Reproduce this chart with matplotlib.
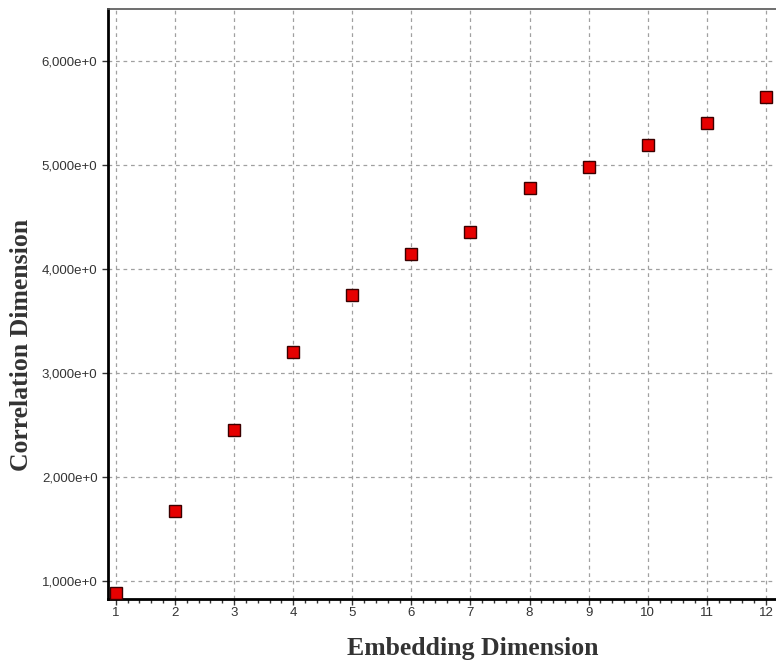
import matplotlib.pyplot as plt
from matplotlib.ticker import FuncFormatter, MultipleLocator

# embedding dimension vs correlation dimension
embedding_dim = [1, 2, 3, 4, 5, 6, 7, 8, 9, 10, 11, 12]
correlation_dim = [0.885, 1.673, 2.452, 3.202, 3.75, 4.144, 4.356, 4.779, 4.981, 5.192, 5.404, 5.654]


def fmt_y(v, pos):
    return "{:.3f}e+0".format(v).replace(".", ",")


fig = plt.figure(figsize=(7.76, 6.62), dpi=100)
ax = fig.add_axes([0.139, 0.0952, 0.861, 0.8912])

ax.plot(embedding_dim, correlation_dim, linestyle='none', marker='s',
        markersize=8.5, markerfacecolor='#e60000', markeredgecolor='#3a0000',
        markeredgewidth=1.0, zorder=3, clip_on=False)

ax.set_xlim(0.865, 12.17)
ax.set_ylim(0.827, 6.5)
ax.xaxis.set_major_locator(MultipleLocator(1))
ax.xaxis.set_minor_locator(MultipleLocator(0.2))
ax.yaxis.set_major_locator(MultipleLocator(1))
ax.yaxis.set_major_formatter(FuncFormatter(fmt_y))

ax.grid(True, which='major', linestyle=(0, (3, 3)), color='#a0a0a0', linewidth=0.9)

ax.spines['left'].set_linewidth(2)
ax.spines['bottom'].set_linewidth(2)
ax.spines['top'].set_color('#555555')
ax.spines['top'].set_linewidth(1.2)
ax.spines['right'].set_visible(False)

ax.tick_params(axis='both', which='major', labelsize=9.5, colors='#333333', length=4, width=1)
ax.tick_params(axis='x', which='minor', length=3, width=1, colors='#333333')
ax.tick_params(axis='x', pad=2)
for lbl in ax.get_xticklabels() + ax.get_yticklabels():
    lbl.set_family('Liberation Sans')

label_font = dict(family='Liberation Serif', fontweight='bold', fontsize=18.5, color='#333333')
fig.text(473 / 776, 1 - 648 / 662, 'Embedding Dimension', ha='center', va='center', **label_font)
fig.text(22 / 776, 1 - 345 / 662, 'Correlation Dimension', ha='center', va='center',
         rotation=90, **label_font)

fig.savefig('out.png', dpi=100)
